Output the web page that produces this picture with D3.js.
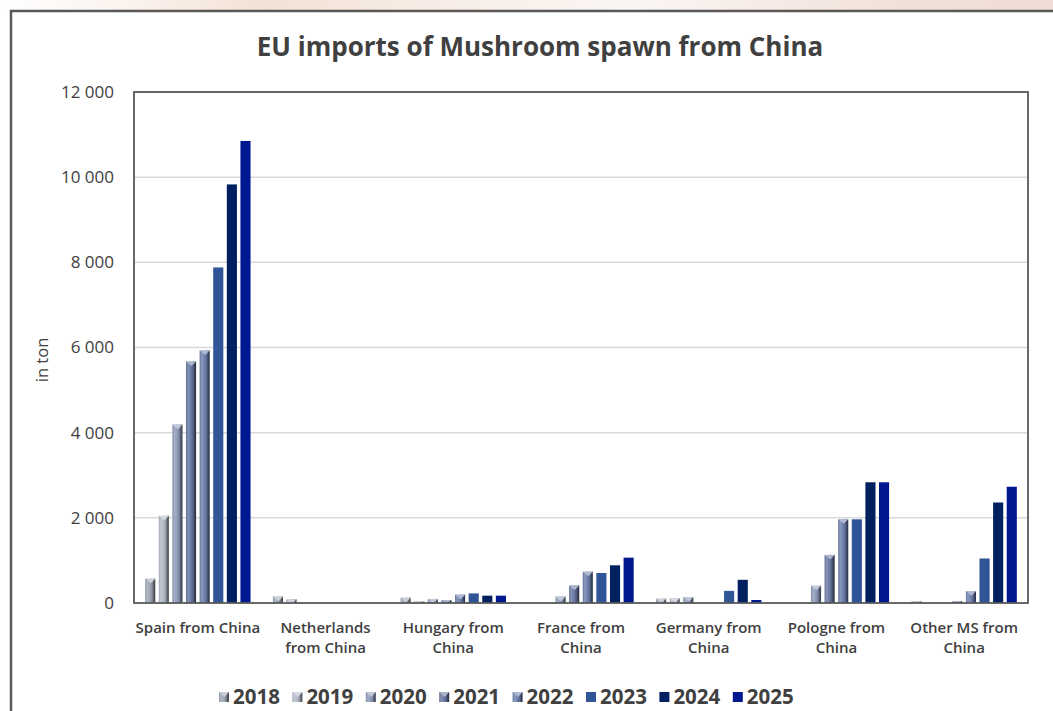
<!DOCTYPE html>
<html>
<head>
<meta charset="utf-8">
<script src="https://cdn.jsdelivr.net/npm/d3@7"></script>
<style>
  html, body { margin: 0; padding: 0; background: #ffffff; }
  svg { display: block; }
</style>
</head>
<body>
<svg id="chart" width="1053" height="711"></svg>
<script>
// ---- data ----
const categories = [
  ["Spain from China"],
  ["Netherlands", "from China"],
  ["Hungary from", "China"],
  ["France from", "China"],
  ["Germany from", "China"],
  ["Pologne from", "China"],
  ["Other MS from", "China"]
];
const years = ["2018", "2019", "2020", "2021", "2022", "2023", "2024", "2025"];
const values2018 = [570, 150, 125, 0, 100, 0, 40];
const values2019 = [2050, 90, 40, 0, 110, 0, 0];
const values2020 = [4190, 0, 95, 150, 140, 405, 0];
const values2021 = [5670, 0, 70, 410, 0, 1130, 40];
const values2022 = [5930, 0, 195, 735, 0, 1965, 280];
const values2023 = [7880, 0, 225, 705, 285, 1965, 1045];
const values2024 = [9830, 0, 172, 885, 545, 2835, 2360];
const values2025 = [10850, 0, 172, 1065, 70, 2835, 2730];
const yTicks = [0, 2000, 4000, 6000, 8000, 10000, 12000];
const seriesValues = [values2018, values2019, values2020, values2021, values2022, values2023, values2024, values2025];

// ---- styles ----
const colors = ["#9ea6b6", "#b3bac9", "#8e9bb9", "#6878a2", "#6d80ad", "#2f5597", "#002060", "#00188f"];
const beveled = [true, true, true, true, true, false, false, false];
const textColor = "#404040";
const font = "'Open Sans', 'Noto Sans', sans-serif";

const svg = d3.select("#chart");
const defs = svg.append("defs");

// background strip at top (photo behind card)
const bg = defs.append("linearGradient").attr("id", "bgstrip").attr("x1", 0).attr("x2", 1).attr("y1", 0).attr("y2", 0);
[[0, "#ffffff"], [0.12, "#fbf3ee"], [0.25, "#f3e2d6"], [0.4, "#f7ece5"], [0.6, "#fbf6f3"], [0.85, "#f2e1da"], [1, "#efdcd6"]]
  .forEach(([o, c]) => bg.append("stop").attr("offset", o).attr("stop-color", c));
svg.append("rect").attr("x", 0).attr("y", 0).attr("width", 1053).attr("height", 11).attr("fill", "url(#bgstrip)");

// card frame
svg.append("rect").attr("x", 11).attr("y", 11).attr("width", 1100).attr("height", 800)
  .attr("fill", "#ffffff").attr("stroke", "#595959").attr("stroke-width", 2.5);

// gradients for bevel bars
colors.forEach((c, i) => {
  if (!beveled[i]) return;
  const g = defs.append("linearGradient").attr("id", "bev" + i).attr("x1", 0).attr("x2", 1).attr("y1", 0).attr("y2", 0);
  const base = d3.color(c);
  const light = d3.interpolateRgb(c, "#ffffff")(0.2);
  g.append("stop").attr("offset", 0).attr("stop-color", base.darker(0.3));
  g.append("stop").attr("offset", 0.2).attr("stop-color", light);
  g.append("stop").attr("offset", 0.5).attr("stop-color", base);
  g.append("stop").attr("offset", 0.72).attr("stop-color", base.darker(0.6));
  g.append("stop").attr("offset", 0.85).attr("stop-color", base.darker(1.8));
  g.append("stop").attr("offset", 1).attr("stop-color", base.darker(2.4));
});

// ---- scales ----
const plot = { left: 134, right: 1028, top: 92, bottom: 603 };
const x0 = d3.scaleBand().domain(d3.range(categories.length))
  .range([plot.left, plot.right]).paddingInner(0.175).paddingOuter(0.0875);
const x1 = d3.scaleBand().domain(d3.range(years.length))
  .range([0, x0.bandwidth()]).paddingInner(0.257).paddingOuter(0);
const y = d3.scaleLinear().domain([0, 12000]).range([plot.bottom, plot.top]);

// gridlines
svg.append("g").selectAll("line").data(yTicks.slice(1)).join("line")
  .attr("x1", plot.left).attr("x2", plot.right)
  .attr("y1", d => y(d)).attr("y2", d => y(d))
  .attr("stroke", "#d9d9d9").attr("stroke-width", 1.5);

// y axis labels
const yAxis = d3.axisLeft(y).tickValues(yTicks).tickSize(0).tickPadding(20)
  .tickFormat(d => d3.format(",")(d).replace(/,/g, " "));
const yg = svg.append("g").attr("transform", `translate(${plot.left},0)`).call(yAxis);
yg.select(".domain").remove();
yg.selectAll("text").attr("font-family", font).attr("font-size", 17).attr("fill", textColor);

// bars
const groups = svg.append("g").selectAll("g").data(categories).join("g")
  .attr("transform", (d, i) => `translate(${x0(i)},0)`);
groups.each(function (cat, ci) {
  const g = d3.select(this);
  const rows = years.map((yr, si) => ({ si, v: seriesValues[si][ci] })).filter(d => d.v > 0);
  g.selectAll("rect").data(rows).join("rect")
    .attr("x", d => x1(d.si)).attr("width", x1.bandwidth())
    .attr("y", d => y(d.v)).attr("height", d => y(0) - y(d.v))
    .attr("fill", d => beveled[d.si] ? `url(#bev${d.si})` : colors[d.si]);
  // bevel top facet
  g.selectAll("path").data(rows.filter(d => beveled[d.si])).join("path")
    .attr("d", d => {
      const xa = x1(d.si), w = x1.bandwidth(), yt = y(d.v);
      const h = Math.min(w * 0.45, y(0) - yt);
      return `M${xa},${yt}L${xa + w},${yt}L${xa + w * 0.55},${yt + h}Z`;
    })
    .attr("fill", d => d3.interpolateRgb(colors[d.si], "#ffffff")(0.45));
});

// plot border
svg.append("rect").attr("x", plot.left).attr("y", plot.top)
  .attr("width", plot.right - plot.left).attr("height", plot.bottom - plot.top)
  .attr("fill", "none").attr("stroke", "#595959").attr("stroke-width", 1.8);

// category labels
const xl = svg.append("g");
categories.forEach((lines, i) => {
  const cx = x0(i) + x0.bandwidth() / 2;
  const t = xl.append("text").attr("x", cx).attr("y", 633)
    .attr("text-anchor", "middle").attr("font-family", font).attr("font-size", 15)
    .attr("font-weight", 600).attr("fill", textColor);
  lines.forEach((ln, k) => t.append("tspan").attr("x", cx).attr("dy", k === 0 ? 0 : 20).text(ln));
});

// axis title
svg.append("text").attr("transform", "translate(48,360) rotate(-90)")
  .attr("text-anchor", "middle").attr("font-family", font).attr("font-size", 16.5)
  .attr("fill", textColor).text("in ton");

// chart title
svg.append("text").attr("x", 540).attr("y", 56).attr("text-anchor", "middle")
  .attr("font-family", font).attr("font-size", 26).attr("font-weight", 700)
  .attr("fill", textColor).text("EU imports of Mushroom spawn from China");

// legend
const legend = svg.append("g").attr("transform", "translate(219,697)");
const li = legend.selectAll("g").data(years).join("g")
  .attr("transform", (d, i) => `translate(${i * 73.4},0)`);
li.append("rect").attr("x", 0).attr("y", -5).attr("width", 10).attr("height", 10)
  .attr("fill", (d, i) => beveled[i] ? `url(#bev${i})` : colors[i]);
li.filter((d, i) => beveled[i]).append("path")
  .attr("d", "M0,-5L10,-5L5.5,0Z").attr("fill", (d, i) => d3.interpolateRgb(colors[i], "#ffffff")(0.45));
li.append("text").attr("x", 14).attr("y", 0).attr("dy", "0.36em")
  .attr("font-family", font).attr("font-size", 20.5).attr("font-weight", 700)
  .attr("fill", textColor).text(d => d);
</script>
</body>
</html>
